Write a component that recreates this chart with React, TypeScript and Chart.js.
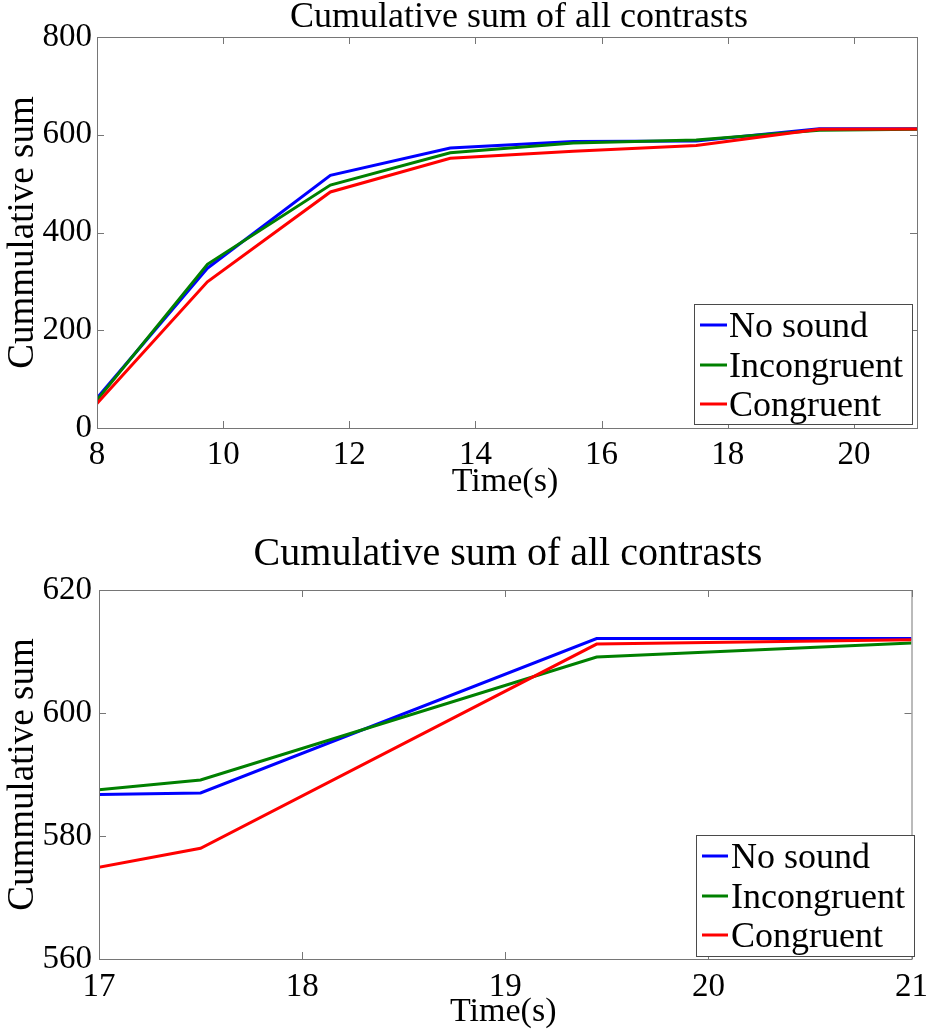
import React, { useEffect, useRef } from "react";
import { Chart, registerables } from "chart.js";

Chart.register(...registerables);

// ---------- data ----------
const seriesLabels = ["No sound", "Incongruent", "Congruent"];
const seriesColors = ["#0000ff", "#008000", "#ff0000"];
const timeSec = [8, 9.75, 11.7, 13.6, 15.55, 17.5, 19.45, 21];
const noSound = [61, 327, 517, 573, 586, 587, 612.1, 612.1];
const incongruent = [57, 335, 497, 563, 583, 589.1, 609.1, 611.4];
const congruent = [50, 299, 483, 552, 566, 578, 611.2, 611.9];
const seriesValues = [noSound, incongruent, congruent];

const topXTicks = [8, 10, 12, 14, 16, 18, 20];
const topYTicks = [0, 200, 400, 600, 800];
const bottomXTicks = [17, 18, 19, 20, 21];
const bottomYTicks = [560, 580, 600, 620];

const chartTitle = "Cumulative sum of all contrasts";
const xAxisLabel = "Time(s)";
const yAxisLabel = "Cummulative sum";

// ---------- layout / style ----------
const FONT = "'Liberation Serif', 'Times New Roman', serif";
const AXIS_COLOR = "#767676";

type Panel = {
  top: number;
  height: number;
  area: { left: number; top: number; right: number; bottom: number };
  xMin: number;
  xMax: number;
  yMin: number;
  yMax: number;
  xTicks: number[];
  yTicks: number[];
  titleX: number;
  titleY: number;
  titleSize: number;
  xLabelY: number;
  yLabelX: number;
  legend: { left: number; top: number; right: number; bottom: number; rows: number[]; lineX0: number; lineX1: number; textX: number };
  yTickPad: number;
  xTickPad: number;
};

const panels: Panel[] = [
  {
    top: 0,
    height: 510,
    area: { left: 97, top: 37, right: 917, bottom: 428 },
    xMin: 8,
    xMax: 21,
    yMin: 0,
    yMax: 800,
    xTicks: topXTicks,
    yTicks: topYTicks,
    titleX: 519,
    titleY: 27,
    titleSize: 36,
    xLabelY: 491,
    yLabelX: 33,
    legend: { left: 694, top: 304, right: 912, bottom: 424, rows: [337, 377, 416], lineX0: 700, lineX1: 727, textX: 729 },
    yTickPad: 5,
    xTickPad: 8,
  },
  {
    top: 510,
    height: 519,
    area: { left: 99, top: 80, right: 919, bottom: 449 },
    xMin: 17,
    xMax: 21,
    yMin: 560,
    yMax: 620,
    xTicks: bottomXTicks,
    yTicks: bottomYTicks,
    titleX: 508,
    titleY: 55,
    titleSize: 40,
    xLabelY: 511,
    yLabelX: 33,
    legend: { left: 696, top: 325, right: 914, bottom: 446, rows: [358, 398, 437], lineX0: 702, lineX1: 728, textX: 731 },
    yTickPad: 7,
    xTickPad: 9,
  },
];

const decorPlugin = {
  id: "decor",
  afterDatasetsDraw(chart: any, _args: any, opts: any) {
    const p: Panel = opts.panel;
    const ctx = chart.ctx as CanvasRenderingContext2D;
    const { left, right, top, bottom } = chart.chartArea;
    const xs = chart.scales.x;
    const ys = chart.scales.y;
    const L = 7;
    ctx.save();
    ctx.strokeStyle = AXIS_COLOR;
    ctx.lineWidth = 1;
    ctx.beginPath();
    xs.ticks.forEach((t: any) => {
      const px = Math.round(xs.getPixelForValue(t.value)) + 0.5;
      ctx.moveTo(px, bottom);
      ctx.lineTo(px, bottom - L);
      ctx.moveTo(px, top);
      ctx.lineTo(px, top + L);
    });
    ys.ticks.forEach((t: any) => {
      const py = Math.round(ys.getPixelForValue(t.value)) + 0.5;
      ctx.moveTo(left, py);
      ctx.lineTo(left + L, py);
      ctx.moveTo(right, py);
      ctx.lineTo(right - L, py);
    });
    ctx.stroke();
    ctx.strokeRect(left + 0.5, top + 0.5, right - left, bottom - top);

    // legend
    const lg = p.legend;
    ctx.fillStyle = "#ffffff";
    ctx.fillRect(lg.left, lg.top, lg.right - lg.left, lg.bottom - lg.top);
    ctx.strokeStyle = "#4a4a4a";
    ctx.strokeRect(lg.left + 0.5, lg.top + 0.5, lg.right - lg.left, lg.bottom - lg.top);
    ctx.font = `36px ${FONT}`;
    ctx.textAlign = "left";
    ctx.textBaseline = "alphabetic";
    chart.data.datasets.forEach((ds: any, i: number) => {
      const by = lg.rows[i];
      ctx.strokeStyle = ds.borderColor;
      ctx.lineWidth = 3;
      ctx.beginPath();
      ctx.moveTo(lg.lineX0, by - 12);
      ctx.lineTo(lg.lineX1, by - 12);
      ctx.stroke();
      ctx.fillStyle = "#000";
      ctx.fillText(ds.label, lg.textX, by);
    });

    // title
    ctx.fillStyle = "#000";
    ctx.font = `${p.titleSize}px ${FONT}`;
    ctx.textAlign = "center";
    ctx.fillText(chartTitle, p.titleX, p.titleY);

    // x label
    ctx.font = `34px ${FONT}`;
    ctx.fillText(xAxisLabel, (left + right) / 2 - 2, p.xLabelY);

    // y label
    ctx.save();
    ctx.translate(p.yLabelX, (top + bottom) / 2);
    ctx.rotate(-Math.PI / 2);
    ctx.font = `37px ${FONT}`;
    ctx.textAlign = "center";
    ctx.fillText(yAxisLabel, 0, 0);
    ctx.restore();

    ctx.restore();
  },
};

function PanelChart({ p }: { p: Panel }) {
  const ref = useRef<HTMLCanvasElement | null>(null);
  useEffect(() => {
    if (!ref.current) return;
    const W = 937;
    const chart = new Chart(ref.current, {
      type: "line",
      data: {
        datasets: seriesLabels.map((label, i) => ({
          label,
          data: timeSec.map((t, k) => ({ x: t, y: seriesValues[i][k] })),
          borderColor: seriesColors[i],
          backgroundColor: seriesColors[i],
          borderWidth: 3,
          pointRadius: 0,
          tension: 0,
          fill: false,
          clip: 0,
          order: 3 - i,
        })),
      },
      options: {
        responsive: false,
        animation: false,
        events: [],
        layout: {
          padding: { left: 0, top: p.area.top, right: W - p.area.right, bottom: 0 },
        },
        plugins: {
          legend: { display: false },
          title: { display: false },
          tooltip: { enabled: false },
          decor: { panel: p },
        } as any,
        scales: {
          x: {
            type: "linear",
            min: p.xMin,
            max: p.xMax,
            border: { display: false },
            grid: { display: false, drawTicks: false },
            afterBuildTicks: (s: any) => {
              s.ticks = p.xTicks.map((v) => ({ value: v }));
            },
            afterFit: (s: any) => {
              s.height = p.height - p.area.bottom;
            },
            ticks: {
              autoSkip: false,
              maxRotation: 0,
              minRotation: 0,
              padding: p.xTickPad,
              color: "#000",
              font: { family: FONT, size: 33 },
              callback: (v: any) => String(v),
            },
          },
          y: {
            type: "linear",
            min: p.yMin,
            max: p.yMax,
            border: { display: false },
            grid: { display: false, drawTicks: false },
            afterBuildTicks: (s: any) => {
              s.ticks = p.yTicks.map((v) => ({ value: v }));
            },
            afterFit: (s: any) => {
              s.width = p.area.left;
            },
            ticks: {
              autoSkip: false,
              padding: p.yTickPad,
              color: "#000",
              font: { family: FONT, size: 33 },
              callback: (v: any) => String(v),
            },
          },
        },
      } as any,
      plugins: [decorPlugin],
    });
    return () => chart.destroy();
  }, [p]);
  return (
    <canvas
      ref={ref}
      width={937}
      height={p.height}
      style={{ position: "absolute", left: 0, top: p.top, width: 937, height: p.height }}
    />
  );
}

export default function App() {
  return (
    <div style={{ position: "absolute", left: 0, top: 0, width: 937, height: 1029, background: "#fff" }}>
      {panels.map((p, i) => (
        <PanelChart key={i} p={p} />
      ))}
    </div>
  );
}
